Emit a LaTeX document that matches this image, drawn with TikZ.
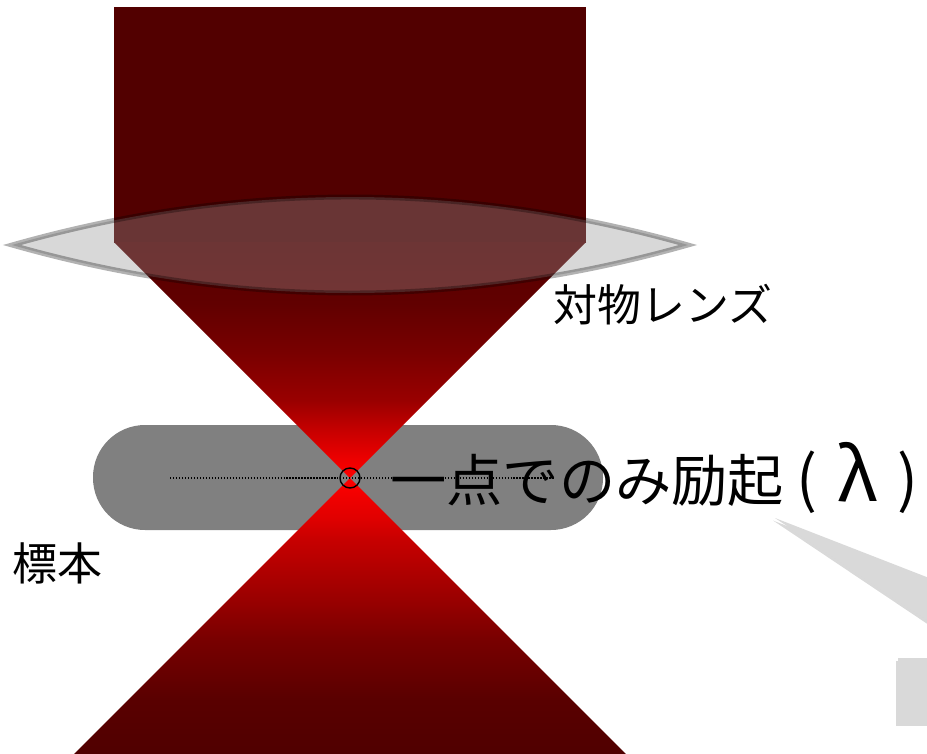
\documentclass[tikz,border=0pt]{standalone}
\usepackage{fontspec}
\newfontfamily\jpfont{Noto Sans CJK JP}
\usetikzlibrary{shadows}

\definecolor{feixeescuro}{HTML}{520000}
\definecolor{feixequente}{HTML}{FF0000}
\definecolor{amostracor}{HTML}{808080}
\definecolor{balaocor}{HTML}{D9D9D9}
\definecolor{lentecor}{HTML}{949494}

% sombreados do feixe (escuro longe do foco, vermelho no foco)
\pgfdeclareverticalshading{conesup}{100bp}{%
  color(0bp)=(feixequente); color(25bp)=(feixequente);
  color(29bp)=(red!93!black); color(35bp)=(red!78!black);
  color(41.5bp)=(red!60!black); color(52bp)=(red!47!black);
  color(62bp)=(red!38!black); color(75bp)=(red!34!black);
  color(100bp)=(red!34!black)}
\pgfdeclareverticalshading{coneinf}{100bp}{%
  color(0bp)=(red!31!black); color(25bp)=(red!31!black);
  color(35.6bp)=(red!35!black); color(46.3bp)=(red!47!black);
  color(53.4bp)=(red!60!black); color(64bp)=(red!78!black);
  color(68bp)=(red!88!black); color(75bp)=(feixequente);
  color(100bp)=(feixequente)}

\newcommand{\feixecone}[4]{%
  % #1 = x do foco, #2 = y do foco, #3 = y da base, #4 = sombreado
  \shade[shading=#4]
    (#1,#2) --
    ({#1-abs(#3-#2)},#3) --
    ({#1+abs(#3-#2)},#3) --
    cycle;
}

\tikzset{
  rotulo/.style={inner sep=0pt, anchor=west},
  balao/.style={fill=balaocor,
    drop shadow={shadow xshift=-1pt, shadow yshift=-1.5pt, opacity=0.3}},
}

\begin{document}
\begin{tikzpicture}[x=0.02cm, y=-0.02cm]
    \useasboundingbox (0,0) rectangle (927,754);
    \clip (0,0) rectangle (927,754);

    \pgfmathsetmacro{\xf}{350}
    \pgfmathsetmacro{\yf}{478}
    \coordinate (F) at (\xf,\yf);

    % amostra
    \fill[amostracor, rounded corners=1.04cm] (93,425) rectangle (603,530);

    % feixe
    \fill[feixeescuro] (\xf-236,7) rectangle (\xf+236,243);
    \feixecone{\xf}{\yf}{242}{conesup}
    \feixecone{\xf}{\yf}{760}{coneinf}

    % lente objetiva
    \draw[line width=2.8pt, draw=black, draw opacity=0.3,
          fill=lentecor, fill opacity=0.36]
      (12,245) .. controls (237,181) and (463,181) .. (688,245)
               .. controls (463,309) and (237,309) .. cycle;

    % plano focal e ponto de excitação
    \draw[densely dotted, line width=0.7pt] (170,\yf) -- (555,\yf);
    \node[circle, draw, line width=0.8pt, minimum size=0.4cm, inner sep=0pt] (foco) at (F) {};

    % balão
    \fill[balao] (775,518) -- (960,590) -- (960,642) -- cycle;
    \fill[balao] (898,658) rectangle (960,723);

    % textos
    \node[rotulo, font=\jpfont\fontsize{32}{38}\selectfont] (excita) at (390,\yf)
      {一点でのみ励起\makebox[0.16em]{}\makebox[0.5em]{\scalebox{1.1}{(}}\makebox[1.3em]{\scalebox{1.3}{λ}}\makebox[0.5em]{\scalebox{1.1}{)}}};
    \node[rotulo, font=\jpfont\fontsize{25}{30}\selectfont] (objetiva) at (553,305) {対物レンズ};
    \node[rotulo, font=\jpfont\fontsize{25.6}{30}\selectfont] (amostra) at (12,563) {標本};
\end{tikzpicture}
\end{document}
